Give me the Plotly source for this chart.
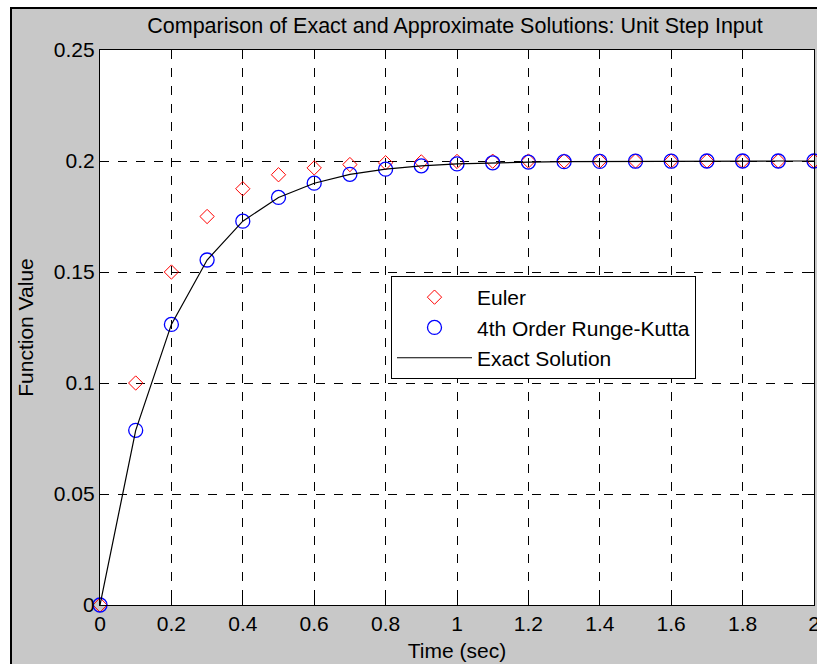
import plotly.graph_objects as go

t = [0.0, 0.1, 0.2, 0.3, 0.4, 0.5, 0.6, 0.7, 0.8, 0.9, 1.0,
     1.1, 1.2, 1.3, 1.4, 1.5, 1.6, 1.7, 1.8, 1.9, 2.0]
euler = [0.0, 0.1, 0.15, 0.175, 0.1875, 0.1938, 0.1969, 0.1984, 0.1992, 0.1996, 0.1998,
         0.1999, 0.2, 0.2, 0.2, 0.2, 0.2, 0.2, 0.2, 0.2, 0.2]
rk4 = [0.0, 0.0787, 0.1264, 0.1554, 0.1729, 0.1836, 0.19, 0.194, 0.1963, 0.1978, 0.1987,
       0.1992, 0.1995, 0.1997, 0.1998, 0.1999, 0.1999, 0.2, 0.2, 0.2, 0.2]
exact = [0.0, 0.0787, 0.1264, 0.1554, 0.1729, 0.1836, 0.19, 0.194, 0.1963, 0.1978, 0.1987,
         0.1992, 0.1995, 0.1997, 0.1998, 0.1999, 0.1999, 0.2, 0.2, 0.2, 0.2]
x_ticks = [0, 0.2, 0.4, 0.6, 0.8, 1.0, 1.2, 1.4, 1.6, 1.8, 2.0]
x_tick_labels = ["0", "0.2", "0.4", "0.6", "0.8", "1", "1.2", "1.4", "1.6", "1.8", "2"]
y_ticks = [0, 0.05, 0.1, 0.15, 0.2, 0.25]
y_tick_labels = ["0", "0.05", "0.1", "0.15", "0.2", "0.25"]

FONT = "Liberation Sans, Arial, sans-serif"
FS = 21

W, H = 817, 664
L, R, T, B = 100, 3, 50, 59
PW, PH = W - L - R, H - T - B


def px(fx):
    return (fx - L) / PW


def py(fy):
    return (H - B - fy) / PH


fig = go.Figure()
fig.add_trace(go.Scatter(x=t, y=euler, mode="markers", name="Euler", legendgroup="a",
                         marker=dict(symbol="diamond-open", size=11, color="#ff0000",
                                     line=dict(width=1, color="#ff0000")),
                         cliponaxis=False))
fig.add_trace(go.Scatter(x=t, y=rk4, mode="markers", name="4th Order Runge-Kutta",
                         legendgroup="b",
                         marker=dict(symbol="circle-open", size=14, color="#0000ff",
                                     line=dict(width=1.3, color="#0000ff")),
                         cliponaxis=False))
fig.add_trace(go.Scatter(x=t, y=exact, mode="lines", name="Exact Solution", legendgroup="c",
                         line=dict(color="#000000", width=1.2)))

axis_common = dict(
    showline=True, linecolor="#000000", linewidth=1.2, mirror="allticks",
    ticks="inside", ticklen=6, tickcolor="#000000", tickwidth=1,
    showgrid=True, gridcolor="#000000", griddash="dash", gridwidth=1,
    zeroline=False, automargin=False, ticklabeloverflow="allow",
    tickfont=dict(family=FONT, size=FS, color="#000000"),
)

fig.update_layout(
    width=W, height=H,
    paper_bgcolor="#c8c8c8", plot_bgcolor="#ffffff",
    margin=dict(l=L, r=R, t=T, b=B, autoexpand=False),
    font=dict(family=FONT, size=FS, color="#000000"),
    title=dict(text="Comparison of Exact and Approximate Solutions: Unit Step Input",
               x=455 / W, xanchor="center", y=1 - 25 / H, yanchor="middle",
               font=dict(family=FONT, size=21.5, color="#000000")),
    xaxis=dict(range=[0, 2], tickvals=x_ticks, ticktext=x_tick_labels,
               title=dict(text="Time (sec)", standoff=9,
                          font=dict(family=FONT, size=FS)), **axis_common),
    yaxis=dict(range=[0, 0.25], tickvals=y_ticks, ticktext=y_tick_labels,
               title=dict(text="Function Value", standoff=14,
                          font=dict(family=FONT, size=FS)), **axis_common),
    legend=dict(x=px(391), y=py(276), xanchor="left", yanchor="top",
                bgcolor="#ffffff", bordercolor="#000000", borderwidth=1,
                font=dict(family=FONT, size=FS, color="#000000"),
                itemwidth=75, tracegroupgap=0),
    shapes=[
        dict(type="rect", xref="paper", yref="paper", layer="above",
             x0=px(0), x1=px(11), y0=-0.3, y1=1.3,
             fillcolor="#ffffff", line=dict(width=0)),
        dict(type="rect", xref="paper", yref="paper", layer="above",
             x0=px(0), x1=1.2, y0=py(8), y1=1.3,
             fillcolor="#ffffff", line=dict(width=0)),
        dict(type="line", xref="paper", yref="paper", layer="above",
             x0=px(11), x1=px(11), y0=-0.3, y1=py(7), line=dict(color="#000000", width=2)),
        dict(type="line", xref="paper", yref="paper", layer="above",
             x0=px(10), x1=1.2, y0=py(8), y1=py(8), line=dict(color="#000000", width=2)),
    ],
    showlegend=True,
)

fig.write_html("out.html", config={"displayModeBar": False},
               post_script="document.body.style.margin='0';document.body.style.overflow='hidden';")
